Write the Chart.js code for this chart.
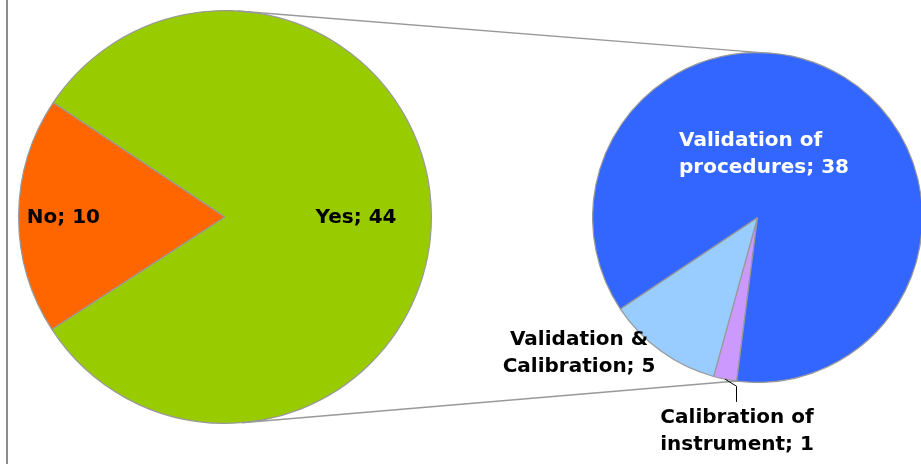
<!DOCTYPE html>
<html>
<head>
<meta charset="utf-8">
<script src="https://cdn.jsdelivr.net/npm/chart.js@4.4.0/dist/chart.umd.min.js"></script>
<style>
    html, body { margin: 0; padding: 0; background: #fff; width: 921px; height: 464px; overflow: hidden; }
    #edge { position: absolute; left: 6px; top: 0; width: 2px; height: 464px; background: #8c8c8c; }
    #leftBox { position: absolute; left: 18px; top: 10px; width: 414px; height: 414px; }
    #rightBox { position: absolute; left: 592px; top: 52px; width: 331px; height: 331px; }
    #overlay { position: absolute; left: 0; top: 0; pointer-events: none; }
</style>
</head>
<body>
<div id="edge"></div>
<div id="leftBox"><canvas id="leftPie"></canvas></div>
<div id="rightBox"><canvas id="rightPie"></canvas></div>
<canvas id="overlay" width="921" height="464"></canvas>

<script>
// Données
const mainLabels = ['No', 'Yes'];
const mainValues = [10, 44];
const mainColors = ['#FF6600', '#99CC00'];

const detailLabels = ['Calibration of instrument', 'Validation & Calibration', 'Validation of procedures'];
const detailValues = [1, 5, 38];
const detailColors = ['#CC99FF', '#99CCFF', '#3366FF'];

const FONT = 'bold 20px "DejaVu Sans", Verdana, sans-serif';
const LINE_H = 27;
const WRAP = 180;

// Placement des étiquettes (en rayons, depuis le centre)
const mainPlacement = [
    { dx: -0.783, dy: 0.005, align: 'center', color: '#000' },
    { dx: 0.635, dy: 0.005, align: 'center', color: '#000' }
];
const detailPlacement = [
    { dx: -0.124, dy: 1.294, align: 'center', color: '#000', leader: true },
    { dx: -1.082, dy: 0.821, align: 'center', color: '#000' },
    { dx: -0.476, dy: -0.385, align: 'left', color: '#fff' }
];

function wrapText(ctx, text) {
    const words = text.split(' ');
    const lines = [];
    let cur = '';
    words.forEach(w => {
        const test = cur ? cur + ' ' + w : w;
        if (cur && ctx.measureText(test).width > WRAP) {
            lines.push(cur);
            cur = w;
        } else {
            cur = test;
        }
    });
    if (cur) lines.push(cur);
    return lines;
}

function pieConfig(labels, values, colors, rotation) {
    return {
        type: 'pie',
        data: {
            labels: labels,
            datasets: [{
                data: values,
                backgroundColor: colors,
                borderColor: '#999999',
                borderWidth: 1.2
            }]
        },
        options: {
            responsive: true,
            maintainAspectRatio: false,
            animation: false,
            rotation: rotation,
            layout: { padding: 0 },
            plugins: {
                legend: { display: false },
                tooltip: { enabled: false }
            }
        }
    };
}

const leftChart = new Chart(document.getElementById('leftPie'),
    pieConfig(mainLabels, mainValues, mainColors, 237));
const rightChart = new Chart(document.getElementById('rightPie'),
    pieConfig(detailLabels, detailValues, detailColors, 187.25));

// Position absolue d'un camembert dans la page
function pieGeom(chart, boxId) {
    const box = document.getElementById(boxId).getBoundingClientRect();
    const arcs = chart.getDatasetMeta(0).data;
    return {
        x: box.left + arcs[0].x,
        y: box.top + arcs[0].y,
        r: arcs[0].outerRadius,
        arcs: arcs
    };
}

function drawLabels(ctx, chart, g, placement) {
    const labels = chart.data.labels;
    const values = chart.data.datasets[0].data;
    ctx.save();
    ctx.font = FONT;
    ctx.textBaseline = 'middle';
    g.arcs.forEach((arc, i) => {
        const p = placement[i];
        const x = g.x + p.dx * g.r;
        const y = g.y + p.dy * g.r;
        const lines = wrapText(ctx, `${labels[i]}; ${values[i]}`);
        const top = y - (lines.length * LINE_H) / 2;
        ctx.fillStyle = p.color;
        ctx.textAlign = p.align;
        lines.forEach((ln, k) => ctx.fillText(ln, x, top + LINE_H * (k + 0.5)));
        if (p.leader) {
            const mid = (arc.startAngle + arc.endAngle) / 2;
            const x0 = g.x + Math.cos(mid) * g.r;
            const y0 = g.y + Math.sin(mid) * g.r;
            const lx = Math.round(x) - 0.5;
            ctx.strokeStyle = '#000';
            ctx.lineWidth = 1;
            ctx.beginPath();
            ctx.moveTo(x0, y0);
            ctx.lineTo(lx, y0 + 7);
            ctx.lineTo(lx, top - 2);
            ctx.stroke();
        }
    });
    ctx.restore();
}

function drawOverlay() {
    const ctx = document.getElementById('overlay').getContext('2d');
    const lc = pieGeom(leftChart, 'leftBox');
    const rc = pieGeom(rightChart, 'rightBox');
    const pt = (c, rad) => [c.x + Math.cos(rad) * c.r, c.y + Math.sin(rad) * c.r];
    const deg = d => d * Math.PI / 180;

    // lignes de liaison
    const segs = [
        [pt(lc, deg(-86.5)), pt(rc, deg(-89))],
        [pt(lc, deg(85.3)), pt(rc, rc.arcs[0].startAngle)]
    ];
    ctx.clearRect(0, 0, 921, 464);
    ctx.strokeStyle = '#999999';
    ctx.lineWidth = 1.5;
    segs.forEach(([a, b]) => {
        ctx.beginPath();
        ctx.moveTo(a[0], a[1]);
        ctx.lineTo(b[0], b[1]);
        ctx.stroke();
    });

    drawLabels(ctx, leftChart, lc, mainPlacement);
    drawLabels(ctx, rightChart, rc, detailPlacement);
}

drawOverlay();
</script>
</body>
</html>
